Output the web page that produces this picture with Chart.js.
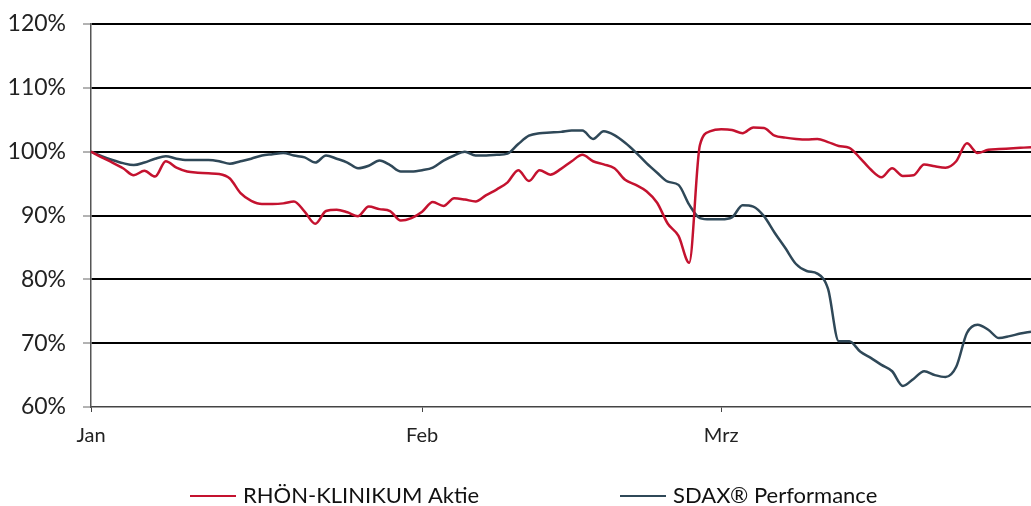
<!DOCTYPE html>
<html>
<head>
<meta charset="utf-8">
<script src="https://cdn.jsdelivr.net/npm/chart.js@4"></script>
<style>
  html, body { margin: 0; padding: 0; background: #fff; }
  #wrap { position: relative; width: 1031px; height: 506px; }
</style>
</head>
<body>
<div id="wrap"><canvas id="perfChart"></canvas></div>
<script>
// month labels and the day index where each month starts
const monthNames = ['Jan', 'Feb', 'Mrz'];
const monthStartDays = [0, 31, 59];

// y axis
const yTicks = [60, 70, 80, 90, 100, 110, 120];

// RHÖN-KLINIKUM Aktie, % of start value, one value per day
const rhoenValues = [
  100, 99.1, 98.3, 97.4, 96.3, 97.0, 96.1, 98.5, 97.5, 96.9,
  96.7, 96.6, 96.5, 95.8, 93.5, 92.3, 91.8, 91.8, 91.9, 92.2,
  90.6, 88.7, 90.7, 90.9, 90.5, 89.9, 91.4, 91.0, 90.7, 89.2,
  89.6, 90.6, 92.1, 91.5, 92.7, 92.5, 92.2, 93.2, 94.1, 95.2,
  97.1, 95.4, 97.1, 96.4, 97.3, 98.5, 99.5, 98.5, 98.0, 97.4,
  95.6, 94.8, 93.8, 92.0, 88.7, 86.8, 82.6, 101.0, 103.2, 103.5,
  103.4, 102.9, 103.8, 103.7, 102.5, 102.2, 102.0, 101.9, 102.0, 101.5,
  100.9, 100.6, 99.0, 97.2, 96.0, 97.4, 96.2, 96.3, 98.0, 97.7,
  97.5, 98.5, 101.3, 99.8, 100.3, 100.4, 100.5, 100.6, 100.7
];

// SDAX Performance, % of start value, one value per day
const sdaxValues = [
  100, 99.3, 98.7, 98.2, 97.9, 98.3, 98.9, 99.3, 98.9, 98.7,
  98.7, 98.7, 98.5, 98.1, 98.5, 98.9, 99.4, 99.6, 99.8, 99.4,
  99.1, 98.3, 99.4, 98.9, 98.3, 97.4, 97.8, 98.6, 97.9, 96.9,
  96.9, 97.1, 97.5, 98.6, 99.4, 100.0, 99.4, 99.4, 99.5, 99.7,
  101.2, 102.5, 102.9, 103.0, 103.1, 103.3, 103.3, 102.0, 103.2, 102.6,
  101.4, 99.9, 98.2, 96.7, 95.3, 94.8, 91.7, 89.6, 89.4, 89.4,
  89.7, 91.6, 91.4, 89.9, 87.3, 84.9, 82.4, 81.3, 80.9, 78.5,
  70.3, 70.3, 68.7, 67.7, 66.6, 65.6, 63.3, 64.4, 65.6, 65.0,
  64.7, 66.3, 71.6, 72.9, 72.1, 70.8, 71.1, 71.5, 71.8
];

// category labels: month name on the first day of the month, empty otherwise
const dayLabels = rhoenValues.map((v, i) => {
  const m = monthStartDays.indexOf(i);
  return m >= 0 ? monthNames[m] : '';
});

const fontFamily = 'Lato, "Open Sans", sans-serif';
const legendX = [190, 620];

// legend drawn under the chart
const bottomLegend = {
  id: 'bottomLegend',
  afterDraw(chart) {
    const ctx = chart.ctx;
    const y = 496;
    chart.data.datasets.forEach((ds, i) => {
      const x = legendX[i];
      ctx.save();
      ctx.strokeStyle = ds.borderColor;
      ctx.lineWidth = 2;
      ctx.beginPath();
      ctx.moveTo(x, y);
      ctx.lineTo(x + 46, y);
      ctx.stroke();
      ctx.fillStyle = '#111';
      ctx.font = '22px ' + fontFamily;
      ctx.textBaseline = 'middle';
      ctx.fillText(ds.label, x + 53, y);
      ctx.restore();
    });
  }
};

new Chart(document.getElementById('perfChart').getContext('2d'), {
  type: 'line',
  data: {
    labels: dayLabels,
    datasets: [
      {
        label: 'RHÖN-KLINIKUM Aktie',
        data: rhoenValues,
        borderColor: '#C4122F',
        borderWidth: 2.5,
        pointRadius: 0,
        cubicInterpolationMode: 'monotone'
      },
      {
        label: 'SDAX® Performance',
        data: sdaxValues,
        borderColor: '#2F4858',
        borderWidth: 2.5,
        pointRadius: 0,
        cubicInterpolationMode: 'monotone'
      }
    ]
  },
  options: {
    responsive: true,
    maintainAspectRatio: false,
    animation: false,
    layout: { padding: { top: 24, right: 0, bottom: 39, left: 0 } },
    plugins: {
      legend: { display: false },
      tooltip: { enabled: false }
    },
    scales: {
      x: {
        type: 'category',
        afterFit: (scale) => {
          scale.height = 60;
          scale.paddingRight = 0;
        },
        ticks: {
          autoSkip: false,
          maxRotation: 0,
          padding: 12,
          color: '#222',
          font: { family: fontFamily, size: 20 }
        },
        grid: {
          drawOnChartArea: false,
          drawTicks: true,
          tickLength: 5,
          color: (ctx) => (ctx.tick && ctx.tick.label ? '#444' : 'rgba(0,0,0,0)')
        },
        border: { display: true, color: '#444', width: 1.5 }
      },
      y: {
        min: 60,
        max: 120,
        afterFit: (scale) => {
          scale.width = 91;
          scale.paddingTop = 0;
        },
        afterBuildTicks: (scale) => { scale.ticks = yTicks.map(v => ({ value: v })); },
        ticks: {
          padding: 17,
          color: '#222',
          font: { family: fontFamily, size: 23 },
          callback: (v) => v + '%'
        },
        grid: {
          color: (ctx) => (ctx.tick && ctx.tick.value === 60 ? 'rgba(0,0,0,0)' : '#000'),
          lineWidth: 2,
          drawTicks: true,
          tickLength: 8,
          tickColor: '#666',
          tickWidth: 1
        },
        border: { display: true, color: '#555', width: 1.5 }
      }
    }
  },
  plugins: [bottomLegend]
});
</script>
</body>
</html>
